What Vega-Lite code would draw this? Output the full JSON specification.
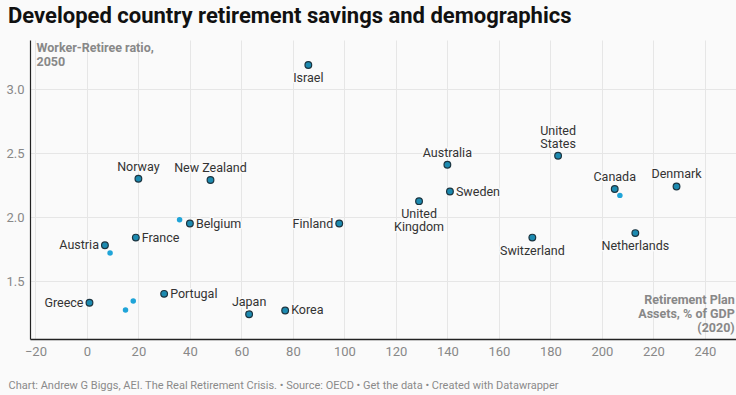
{
  "$schema": "https://vega.github.io/schema/vega-lite/v6.json",
  "width": 706,
  "height": 299,
  "autosize": {"type": "none"},
  "padding": {"left": 30, "top": 40, "right": 0, "bottom": 56},
  "background": "#fafafa",
  "title": {
    "text": "Developed country retirement savings and demographics",
    "anchor": "start",
    "frame": "group",
    "dx": -22,
    "offset": 12,
    "fontSize": 22,
    "font": "Roboto",
    "fontWeight": "bold",
    "color": "#111111"
  },
  "config": {
    "view": {"stroke": null},
    "font": "Roboto",
    "text": {"font": "Roboto", "fontSize": 12.5, "color": "#333333"}
  },
  "layer": [
    {
      "data": {
        "values": [
          {"country": "Israel", "assets": 86, "ratio": 3.19},
          {"country": "Norway", "assets": 20, "ratio": 2.3},
          {"country": "New Zealand", "assets": 48, "ratio": 2.29},
          {"country": "Belgium", "assets": 40, "ratio": 1.95},
          {"country": "France", "assets": 19, "ratio": 1.84},
          {"country": "Austria", "assets": 7, "ratio": 1.78},
          {"country": "Greece", "assets": 1, "ratio": 1.33},
          {"country": "Portugal", "assets": 30, "ratio": 1.4},
          {"country": "Japan", "assets": 63, "ratio": 1.24},
          {"country": "Korea", "assets": 77, "ratio": 1.27},
          {"country": "Finland", "assets": 98, "ratio": 1.95},
          {"country": "United Kingdom", "assets": 129, "ratio": 2.125},
          {"country": "Australia", "assets": 140, "ratio": 2.41},
          {"country": "Sweden", "assets": 141, "ratio": 2.2},
          {"country": "United States", "assets": 183, "ratio": 2.48},
          {"country": "Switzerland", "assets": 173, "ratio": 1.84},
          {"country": "Canada", "assets": 205, "ratio": 2.22},
          {"country": "Denmark", "assets": 229, "ratio": 2.24},
          {"country": "Netherlands", "assets": 213, "ratio": 1.875},
          {"country": null, "assets": 36, "ratio": 1.98},
          {"country": null, "assets": 9, "ratio": 1.72},
          {"country": null, "assets": 18, "ratio": 1.345},
          {"country": null, "assets": 15, "ratio": 1.273},
          {"country": null, "assets": 207, "ratio": 2.17}
        ]
      },
      "encoding": {
        "x": {
          "field": "assets",
          "type": "quantitative",
          "scale": {"domain": [-22.1, 252.1], "nice": false, "zero": false},
          "axis": {
            "values": [-20, 0, 20, 40, 60, 80, 100, 120, 140, 160, 180, 200, 220, 240],
            "grid": true,
            "gridColor": "#e6e6e6",
            "ticks": false,
            "labelFontSize": 13,
            "labelColor": "#888888",
            "labelPadding": 6,
            "labelFont": "Roboto",
            "domainColor": "#222222",
            "domainWidth": 1.5,
            "title": "Chart: Andrew G Biggs, AEI. The Real Retirement Crisis. • Source: OECD • Get the data • Created with Datawrapper",
            "titleAnchor": "start",
            "titleAlign": "left",
            "titleBaseline": "middle",
            "titleX": -22,
            "titleY": 46,
            "titleFont": "Roboto",
            "titleFontSize": 11,
            "titleFontWeight": "normal",
            "titleColor": "#8a8a8a"
          }
        },
        "y": {
          "field": "ratio",
          "type": "quantitative",
          "scale": {"domain": [1.047, 3.385], "nice": false, "zero": false},
          "axis": {
            "values": [1.5, 2, 2.5, 3],
            "format": ".1f",
            "grid": true,
            "gridColor": "#e6e6e6",
            "ticks": false,
            "labelFontSize": 13,
            "labelColor": "#888888",
            "labelPadding": 6,
            "labelFont": "Roboto",
            "domainColor": "#222222",
            "domainWidth": 1.2,
            "title": ["Worker-Retiree ratio,", "2050"],
            "titleAngle": 0,
            "titleAlign": "left",
            "titleBaseline": "top",
            "titleX": 6,
            "titleY": 1,
            "titleLineHeight": 14,
            "titleFont": "Roboto",
            "titleFontSize": 12.5,
            "titleFontWeight": "bold",
            "titleColor": "#888888"
          }
        }
      },
      "layer": [
        {
          "transform": [{"filter": "!datum.country"}],
          "mark": {"type": "circle", "size": 30, "color": "#1fa4d8", "opacity": 1}
        },
        {
          "transform": [{"filter": "datum.country"}],
          "mark": {"type": "point", "filled": true, "size": 45, "fill": "#1c8ab0", "stroke": "#1b3440", "strokeWidth": 1.2, "opacity": 1}
        },
        {
          "transform": [{"filter": {"field": "country", "oneOf": ["Norway", "New Zealand", "Japan", "Australia", "Canada", "Denmark"]}}],
          "encoding": {"text": {"field": "country"}},
          "layer": [
            {"mark": {"type": "text", "align": "center", "baseline": "bottom", "dy": -5, "stroke": "#fafafa", "strokeWidth": 3, "strokeJoin": "round"}},
            {"mark": {"type": "text", "align": "center", "baseline": "bottom", "dy": -5}}
          ]
        },
        {
          "transform": [{"filter": {"field": "country", "oneOf": ["United States"]}}],
          "encoding": {"text": {"field": "country"}},
          "layer": [
            {"mark": {"type": "text", "align": "center", "baseline": "bottom", "dy": -18, "lineBreak": " ", "lineHeight": 13, "stroke": "#fafafa", "strokeWidth": 3, "strokeJoin": "round"}},
            {"mark": {"type": "text", "align": "center", "baseline": "bottom", "dy": -18, "lineBreak": " ", "lineHeight": 13}}
          ]
        },
        {
          "transform": [{"filter": {"field": "country", "oneOf": ["Israel", "Switzerland", "Netherlands", "United Kingdom"]}}],
          "encoding": {"text": {"field": "country"}},
          "layer": [
            {"mark": {"type": "text", "align": "center", "baseline": "top", "dy": 7, "lineBreak": " ", "lineHeight": 13, "stroke": "#fafafa", "strokeWidth": 3, "strokeJoin": "round"}},
            {"mark": {"type": "text", "align": "center", "baseline": "top", "dy": 7, "lineBreak": " ", "lineHeight": 13}}
          ]
        },
        {
          "transform": [{"filter": {"field": "country", "oneOf": ["Belgium", "France", "Portugal", "Korea", "Sweden"]}}],
          "encoding": {"text": {"field": "country"}},
          "layer": [
            {"mark": {"type": "text", "align": "left", "baseline": "middle", "dx": 6, "stroke": "#fafafa", "strokeWidth": 3, "strokeJoin": "round"}},
            {"mark": {"type": "text", "align": "left", "baseline": "middle", "dx": 6}}
          ]
        },
        {
          "transform": [{"filter": {"field": "country", "oneOf": ["Austria", "Greece", "Finland"]}}],
          "encoding": {"text": {"field": "country"}},
          "layer": [
            {"mark": {"type": "text", "align": "right", "baseline": "middle", "dx": -6, "stroke": "#fafafa", "strokeWidth": 3, "strokeJoin": "round"}},
            {"mark": {"type": "text", "align": "right", "baseline": "middle", "dx": -6}}
          ]
        }
      ]
    },
    {
      "data": {"values": [{"label": "Retirement Plan|Assets, % of GDP|(2020)"}]},
      "mark": {"type": "text", "align": "right", "baseline": "top", "dx": -1, "lineBreak": "|", "lineHeight": 14, "fontWeight": "bold", "color": "#888888", "fontSize": 12.5, "clip": false},
      "encoding": {
        "x": {"datum": 252, "type": "quantitative"},
        "y": {"datum": 1.4, "type": "quantitative"},
        "text": {"field": "label", "type": "nominal"}
      }
    }
  ]
}
